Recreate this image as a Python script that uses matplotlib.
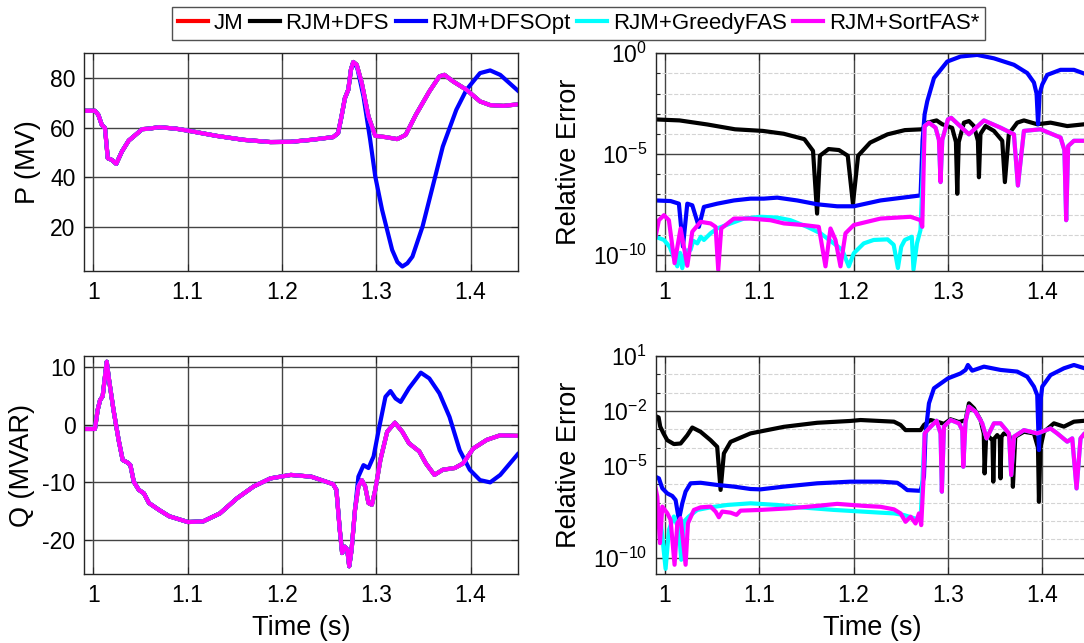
"""
P/Q responses and relative errors of the reduced Jacobian variants.
"""

import numpy as np
import matplotlib
matplotlib.use('Agg')
import matplotlib.pyplot as plt
from matplotlib.ticker import FixedLocator, NullLocator, FuncFormatter

matplotlib.rcParams['font.family'] = ['Liberation Sans', 'DejaVu Sans']
matplotlib.rcParams['mathtext.fontset'] = 'custom'
matplotlib.rcParams['mathtext.rm'] = 'Liberation Sans'
matplotlib.rcParams['mathtext.it'] = 'Liberation Sans:italic'
matplotlib.rcParams['mathtext.bf'] = 'Liberation Sans:bold'
matplotlib.rcParams['axes.unicode_minus'] = False

# ============================================================
# Data
# ============================================================
methods = ['JM', 'RJM+DFS', 'RJM+DFSOpt', 'RJM+GreedyFAS', 'RJM+SortFAS*']
colors = ['#ff0000', '#000000', '#0000ff', '#00ffff', '#ff00ff']

# P (MV): JM, DFS, GreedyFAS and SortFAS lie on top of each other
p_t = [0.990, 1.0018, 1.0054, 1.009, 1.0125, 1.0154, 1.0197, 1.0244, 1.0304, 1.0376,
       1.043, 1.0519, 1.059, 1.0698, 1.0877, 1.102, 1.1307, 1.1594, 1.188, 1.2095,
       1.231, 1.2543, 1.2596, 1.2632, 1.2668, 1.2704, 1.2732, 1.2757, 1.2793, 1.2847,
       1.2918, 1.299, 1.3098, 1.3223, 1.3312, 1.342, 1.3563, 1.367, 1.3724, 1.3814,
       1.3957, 1.41, 1.4208, 1.435, 1.450]
p_ref = [66.8, 66.8, 65.2, 61.2, 59.8, 47.7, 47.0, 45.4, 50.4, 54.8,
         56.5, 59.4, 59.6, 60.2, 59.6, 58.7, 56.7, 55.1, 54.2, 54.3,
         55.1, 56.2, 57.8, 64.5, 71.9, 75.3, 83.4, 86.5, 85.4, 78.0,
         64.5, 56.7, 56.2, 55.4, 57.1, 65.2, 74.6, 80.7, 81.3, 78.7,
         75.3, 70.6, 69.1, 68.8, 69.4]
p_opt_t = p_t[:28] + [1.2800, 1.2865, 1.2936, 1.299, 1.3062, 1.3169, 1.3225, 1.3277, 1.333,
                      1.3384, 1.3491, 1.3599, 1.3706, 1.3849, 1.3957, 1.41, 1.4208, 1.4315, 1.450]
p_opt = p_ref[:28] + [84.0, 72.6, 55.1, 40.3, 26.9, 10.7, 5.8, 4.0, 5.3,
                      8.0, 20.1, 36.3, 52.4, 67.2, 75.3, 82.0, 83.1, 81.3, 75.0]

# Q (MVAR)
q_t = [0.990, 1.0018, 1.0047, 1.0072, 1.010, 1.0143, 1.0168, 1.0215, 1.0269, 1.0312,
       1.0369, 1.0394, 1.043, 1.0483, 1.0537, 1.0591, 1.0698, 1.0806, 1.1003, 1.1164,
       1.1343, 1.1522, 1.1701, 1.188, 1.2095, 1.231, 1.2543, 1.2578, 1.2614, 1.2639,
       1.2668, 1.2693, 1.2714, 1.2739, 1.2775, 1.2811, 1.2847, 1.2883, 1.2918, 1.2954,
       1.299, 1.3044, 1.3116, 1.3198, 1.3277, 1.3348, 1.3456, 1.3527, 1.3617, 1.3706,
       1.3832, 1.3921, 1.4029, 1.4172, 1.4315, 1.450]
q_ref = [-0.7, -0.7, 2.6, 4.3, 5.0, 11.0, 7.8, 2.6, -2.6, -6.1,
         -6.6, -7.0, -9.9, -11.3, -11.9, -13.6, -14.8, -15.9, -16.9, -16.8,
         -15.4, -12.8, -10.7, -9.3, -8.7, -9.0, -10.3, -11.3, -18.3, -22.3,
         -21.2, -21.7, -24.6, -21.7, -14.8, -10.7, -9.6, -10.7, -13.6, -13.9,
         -11.3, -6.1, -1.2, 0.4, -1.2, -3.2, -4.6, -6.7, -8.7, -7.8,
         -7.5, -6.7, -4.1, -2.6, -1.8, -1.9]
q_opt_t = q_t[:35] + [1.2811, 1.2865, 1.2918, 1.2972, 1.3026, 1.3098, 1.3151, 1.3205, 1.3259,
                      1.3348, 1.3473, 1.3563, 1.367, 1.3777, 1.3885, 1.3992, 1.41, 1.4208,
                      1.4315, 1.450]
q_opt = q_ref[:35] + [-9.0, -7.0, -7.5, -5.5, -0.9, 4.9, 5.9, 4.6, 4.0,
                      6.4, 9.1, 8.1, 5.5, 1.4, -4.4, -7.8, -9.6, -10.0,
                      -8.7, -5.1]

# Relative error of P, log10 exponents
ep_dfs_t = [0.990, 1.0155, 1.0448, 1.0743, 1.1037, 1.1258, 1.1478, 1.157, 1.1613, 1.1643,
            1.1735, 1.1845, 1.1938, 1.1993, 1.2048, 1.2176, 1.236, 1.2544, 1.2728, 1.2781,
            1.288, 1.294, 1.3045, 1.3085, 1.3099, 1.3115, 1.317, 1.3223, 1.3276, 1.3318,
            1.3329, 1.3345, 1.3399, 1.3488, 1.3576, 1.3604, 1.3646, 1.3735, 1.3806, 1.3947,
            1.4088, 1.4265, 1.4449, 1.450]
ep_dfs = [-3.28, -3.33, -3.53, -3.77, -3.85, -3.99, -4.26, -4.84, -7.95, -5.08,
          -4.75, -4.80, -5.08, -7.46, -5.08, -4.43, -4.02, -3.81, -3.77, -3.44,
          -3.33, -3.52, -3.70, -4.40, -6.97, -4.40, -3.44, -3.36, -3.61, -4.34,
          -6.15, -4.00, -3.61, -3.85, -4.34, -6.39, -4.00, -3.44, -3.33, -3.52,
          -3.44, -3.61, -3.52, -3.52]
ep_opt_t = [0.990, 1.006, 1.0148, 1.0191, 1.0237, 1.029, 1.036, 1.0413, 1.0554, 1.0731,
            1.0907, 1.1049, 1.119, 1.1402, 1.1614, 1.1826, 1.2002, 1.2285, 1.271, 1.2731,
            1.2753, 1.2781, 1.2852, 1.2993, 1.3134, 1.3311, 1.3488, 1.37, 1.3841, 1.3912,
            1.394, 1.3956, 1.3972, 1.400, 1.4053, 1.4194, 1.4336, 1.450]
ep_opt = [-7.30, -7.33, -7.46, -9.59, -7.46, -7.54, -8.61, -7.62, -7.46, -7.30,
          -7.21, -7.21, -7.16, -7.30, -7.49, -7.59, -7.59, -7.30, -7.05, -4.34,
          -3.03, -2.38, -1.23, -0.41, -0.16, -0.08, -0.25, -0.57, -0.98, -1.45,
          -2.00, -3.52, -2.00, -1.55, -1.07, -0.82, -0.82, -1.10]
ep_sort_t = [0.990, 0.9936, 0.999, 1.0042, 1.0102, 1.0166, 1.0237, 1.029, 1.0378, 1.0484,
             1.0537, 1.0565, 1.0597, 1.0731, 1.0907, 1.1119, 1.1261, 1.1472, 1.1631, 1.1702,
             1.1755, 1.1808, 1.1861, 1.1914, 1.2002, 1.2143, 1.2285, 1.2604, 1.2710, 1.2728,
             1.2753, 1.2799, 1.2869, 1.2905, 1.2922, 1.294, 1.300, 1.3035, 1.3223, 1.3382,
             1.3558, 1.3700, 1.3742, 1.3806, 1.3982, 1.4194, 1.4235, 1.4254, 1.4275, 1.4336,
             1.450]
ep_sort = [-9.10, -8.28, -8.03, -8.28, -10.41, -8.69, -10.54, -8.85, -8.36, -8.44,
           -8.61, -10.74, -8.69, -8.20, -8.20, -8.28, -8.44, -8.52, -8.61, -10.57,
           -8.69, -9.26, -10.57, -8.93, -8.52, -8.36, -8.20, -8.11, -8.28, -8.61,
           -3.61, -3.44, -3.69, -4.30, -6.39, -4.30, -3.28, -3.20, -4.02, -3.33,
           -3.69, -4.02, -6.56, -3.85, -3.77, -4.18, -4.80, -8.28, -4.60, -4.34,
           -4.34]
# GreedyFAS follows SortFAS after the jump at t = 1.275 s
ep_greedy_t = [0.990, 0.999, 1.005, 1.0131, 1.016, 1.0184, 1.0215, 1.0272, 1.030, 1.0343,
               1.038, 1.0413, 1.0484, 1.0554, 1.0696, 1.0837, 1.1013, 1.119, 1.1331, 1.1508,
               1.165, 1.179, 1.1879, 1.1949, 1.2002, 1.2108, 1.2213, 1.236, 1.2425, 1.247,
               1.2505, 1.2543, 1.2617, 1.2635, 1.2672, 1.2709] + ep_sort_t[30:]
ep_greedy = [-9.10, -9.26, -9.60, -10.57, -9.90, -10.66, -9.80, -9.75, -9.30, -9.43,
             -9.10, -9.26, -8.93, -8.69, -8.44, -8.20, -8.11, -8.15, -8.28, -8.61,
             -8.93, -9.43, -9.75, -10.57, -9.92, -9.43, -9.26, -9.23, -9.50, -10.65,
             -9.60, -9.26, -9.10, -10.73, -9.43, -8.77] + ep_sort[30:]

# Relative error of Q, log10 exponents
eq_dfs_t = [0.990, 0.9933, 0.995, 0.9985, 1.0025, 1.0095, 1.0166, 1.0237, 1.029, 1.0378,
            1.0484, 1.0554, 1.059, 1.0625, 1.0696, 1.0907, 1.1261, 1.1614, 1.1967, 1.2074,
            1.2428, 1.2498, 1.2551, 1.271, 1.2746, 1.2816, 1.2887, 1.2958, 1.3028, 1.3117,
            1.3187, 1.3223, 1.3276, 1.3346, 1.3380, 1.3389, 1.3405, 1.3435, 1.3472, 1.3481,
            1.3492, 1.3523, 1.3550, 1.3558, 1.3568, 1.3594, 1.3647, 1.3680, 1.3689, 1.3714,
            1.3806, 1.3912, 1.3955, 1.3965, 1.3980, 1.4018, 1.4124, 1.4230, 1.4336, 1.4449,
            1.450]
eq_dfs = [-2.27, -2.35, -2.85, -3.22, -3.59, -3.80, -3.77, -3.32, -2.90, -3.13,
          -3.59, -3.95, -6.30, -4.31, -3.68, -3.22, -2.86, -2.64, -2.54, -2.49,
          -2.58, -2.76, -3.04, -3.04, -2.76, -2.49, -2.58, -2.70, -2.45, -2.60,
          -2.50, -1.58, -1.85, -2.49, -3.22, -5.40, -3.40, -3.40, -3.60, -5.85,
          -3.50, -3.31, -3.50, -5.67, -3.40, -3.22, -3.30, -3.80, -6.13, -3.40,
          -3.13, -3.22, -4.00, -6.95, -4.00, -3.13, -2.67, -2.85, -2.58, -2.53,
          -2.53]
eq_opt_t = [0.990, 0.9936, 0.9972, 1.0025, 1.0078, 1.0113, 1.0148, 1.0184, 1.0219, 1.0272,
            1.0378, 1.0554, 1.0731, 1.0907, 1.1013, 1.1261, 1.1614, 1.1967, 1.2285, 1.2463,
            1.2516, 1.2569, 1.271, 1.2746, 1.2763, 1.2799, 1.2852, 1.300, 1.3134, 1.3187,
            1.3212, 1.3258, 1.3382, 1.3558, 1.3735, 1.3841, 1.3912, 1.3947, 1.3965, 1.3985,
            1.400, 1.4088, 1.4230, 1.4336, 1.4449, 1.450]
eq_opt = [-5.58, -5.67, -6.21, -6.49, -6.63, -6.85, -7.93, -7.03, -6.39, -5.94,
          -5.91, -6.03, -6.12, -6.25, -6.27, -6.12, -5.94, -5.85, -5.85, -5.91,
          -6.09, -6.31, -6.35, -5.58, -3.22, -1.58, -0.76, -0.22, 0.05, 0.24,
          0.51, 0.20, 0.42, 0.24, 0.15, -0.13, -0.67, -1.13, -4.13, -1.30,
          -0.67, -0.04, 0.33, 0.51, 0.33, 0.30]
eq_sort_t = [0.989, 0.9919, 0.9947, 0.9972, 1.0025, 1.006, 1.0102, 1.0131, 1.0166, 1.0219,
             1.0244, 1.0307, 1.0378, 1.0484, 1.0537, 1.0572, 1.0607, 1.0696, 1.0759, 1.0802,
             1.1013, 1.1331, 1.1614, 1.1826, 1.2108, 1.2286, 1.2428, 1.2498, 1.2551, 1.2604,
             1.2657, 1.2693, 1.2717, 1.2739, 1.2753, 1.2799, 1.288, 1.2922, 1.2936, 1.2958,
             1.3028, 1.3117, 1.3152, 1.3163, 1.3187, 1.3223, 1.3293, 1.3364, 1.341, 1.3488,
             1.3558, 1.3647, 1.3671, 1.370, 1.3806, 1.3947, 1.4088, 1.4159, 1.4265, 1.4318,
             1.4364, 1.4406, 1.4449, 1.450]
eq_sort = [-5.94, -6.67, -9.20, -7.21, -7.57, -7.93, -10.38, -8.12, -7.84, -10.38,
           -8.12, -7.39, -7.25, -7.21, -7.48, -7.79, -7.48, -7.54, -7.66, -7.43,
           -7.39, -7.30, -7.17, -7.06, -7.17, -7.22, -7.36, -7.58, -8.04, -7.76,
           -8.13, -7.58, -8.22, -5.95, -3.22, -2.95, -2.53, -3.22, -6.40, -2.85,
           -2.49, -2.67, -3.04, -5.04, -2.58, -1.76, -2.04, -2.67, -3.49, -2.67,
           -2.67, -3.22, -5.49, -3.40, -3.04, -3.22, -2.95, -3.22, -3.67, -3.49,
           -6.22, -3.49, -3.22, -3.15]
eq_greedy_t = [0.990, 0.9954, 1.0007, 1.0042, 1.0095, 1.0148, 1.0173, 1.0201, 1.0254, 1.0343,
               1.0484, 1.066, 1.0907, 1.119, 1.1437, 1.179, 1.2285, 1.2428, 1.2534, 1.271] + eq_sort_t[34:]
eq_greedy = [-6.94, -7.93, -10.60, -8.48, -7.75, -8.48, -10.11, -8.03, -7.75, -7.39,
             -7.25, -7.12, -7.03, -7.12, -7.25, -7.39, -7.54, -7.58, -7.67, -7.95] + eq_sort[34:]

# ============================================================
# Figure
# ============================================================
LW = 3
GRID = '#444444'
TICK_FS = 16.5
LABEL_FS = 19.5
fig = plt.figure(figsize=(10.84, 6.43), dpi=100)

# axes boxes in pixels (left, top, right, bottom); right column runs past the edge
W, H = 1084.0, 643.0
def box(l, t, r, b):
    return [l / W, 1 - b / H, (r - l) / W, (b - t) / H]

ax_p = fig.add_axes(box(83.8, 53.3, 517.7, 271.0))
ax_ep = fig.add_axes(box(655.5, 53.3, 1089.4, 271.0))
ax_q = fig.add_axes(box(83.8, 356.0, 517.7, 574.3))
ax_eq = fig.add_axes(box(655.5, 356.0, 1089.4, 574.3))

def common(ax):
    ax.set_xlim(0.99, 1.45)
    ax.set_xticks([1.0, 1.1, 1.2, 1.3, 1.4])
    ax.set_xticklabels(['1', '1.1', '1.2', '1.3', '1.4'])
    ax.xaxis.set_minor_locator(NullLocator())
    ax.tick_params(which='both', direction='in', top=True, right=True,
                   labelsize=TICK_FS, width=0.8, color='#262626')
    ax.tick_params(which='major', length=5)
    ax.tick_params(which='minor', length=3)
    ax.tick_params(axis='x', pad=7)
    ax.tick_params(axis='y', pad=6)
    for s in ax.spines.values():
        s.set_linewidth(1.0)
        s.set_color('#262626')
    ax.grid(True, which='major', color=GRID, linewidth=1.0)
    ax.set_axisbelow(True)

# --- P ---
ax_p.plot(p_t, p_ref, color=colors[0], lw=LW, label=methods[0])
ax_p.plot(p_t, p_ref, color=colors[1], lw=LW, label=methods[1])
ax_p.plot(p_opt_t, p_opt, color=colors[2], lw=LW, label=methods[2])
ax_p.plot(p_t, p_ref, color=colors[3], lw=LW, label=methods[3])
ax_p.plot(p_t, p_ref, color=colors[4], lw=LW, label=methods[4])
common(ax_p)
ax_p.set_ylim(2.2, 90)
ax_p.set_yticks([20, 40, 60, 80])
ax_p.set_ylabel('P (MV)', fontsize=LABEL_FS)
ax_p.yaxis.set_label_coords(-0.098, 0.5)

# --- Q ---
ax_q.plot(q_t, q_ref, color=colors[0], lw=LW)
ax_q.plot(q_t, q_ref, color=colors[1], lw=LW)
ax_q.plot(q_opt_t, q_opt, color=colors[2], lw=LW)
ax_q.plot(q_t, q_ref, color=colors[3], lw=LW)
ax_q.plot(q_t, q_ref, color=colors[4], lw=LW)
common(ax_q)
ax_q.set_ylim(-26, 12)
ax_q.set_yticks([-20, -10, 0, 10])
ax_q.set_ylabel('Q (MVAR)', fontsize=LABEL_FS)
ax_q.yaxis.set_label_coords(-0.113, 0.5)
ax_q.set_xlabel('Time (s)', fontsize=LABEL_FS)
ax_q.xaxis.set_label_coords(0.5, -0.186)

# --- relative errors ---
def log_axes(ax, lo, hi, majors):
    ax.set_yscale('log')
    common(ax)
    ax.set_ylim(10.0 ** lo, 10.0 ** hi)
    ax.yaxis.set_major_locator(FixedLocator([10.0 ** m for m in majors]))
    minors = [10.0 ** d for d in range(int(np.ceil(lo)), int(hi) + 1) if d not in majors]
    ax.yaxis.set_minor_locator(FixedLocator(minors))
    ax.yaxis.set_major_formatter(FuncFormatter(
        lambda v, pos: r'$\mathregular{10^{%d}}$' % int(round(np.log10(v)))))
    ax.yaxis.set_minor_formatter(FuncFormatter(lambda v, pos: ''))
    ax.grid(True, which='minor', axis='y', color='#d4d4d4', linestyle='--', linewidth=0.8)
    ax.set_ylabel('Relative Error', fontsize=LABEL_FS)
    ax.yaxis.set_label_coords(-0.169, 0.5)

ax_ep.plot(ep_dfs_t, 10.0 ** np.array(ep_dfs), color=colors[1], lw=LW)
ax_ep.plot(ep_opt_t, 10.0 ** np.array(ep_opt), color=colors[2], lw=LW)
ax_ep.plot(ep_greedy_t, 10.0 ** np.array(ep_greedy), color=colors[3], lw=LW)
ax_ep.plot(ep_sort_t, 10.0 ** np.array(ep_sort), color=colors[4], lw=LW)
log_axes(ax_ep, -10.8, 0, [0, -5, -10])

ax_eq.plot(eq_dfs_t, 10.0 ** np.array(eq_dfs), color=colors[1], lw=LW)
ax_eq.plot(eq_opt_t, 10.0 ** np.array(eq_opt), color=colors[2], lw=LW)
ax_eq.plot(eq_greedy_t, 10.0 ** np.array(eq_greedy), color=colors[3], lw=LW)
ax_eq.plot(eq_sort_t, 10.0 ** np.array(eq_sort), color=colors[4], lw=LW)
log_axes(ax_eq, -10.9, 1, [1, -2, -5, -10])
ax_eq.set_xlabel('Time (s)', fontsize=LABEL_FS)
ax_eq.xaxis.set_label_coords(0.5, -0.186)

# --- legend ---
handles, labels = ax_p.get_legend_handles_labels()
leg = fig.legend(handles, labels, loc='center', bbox_to_anchor=(578.5 / W, 1 - 23.5 / H),
                 ncol=5, fontsize=16, frameon=True, fancybox=False, edgecolor='#262626',
                 handlelength=1.35, handletextpad=0.25, columnspacing=0.3,
                 borderpad=0.25, borderaxespad=0)
leg.get_frame().set_linewidth(1.0)

fig.savefig('out.png', dpi=100)
plt.close(fig)
